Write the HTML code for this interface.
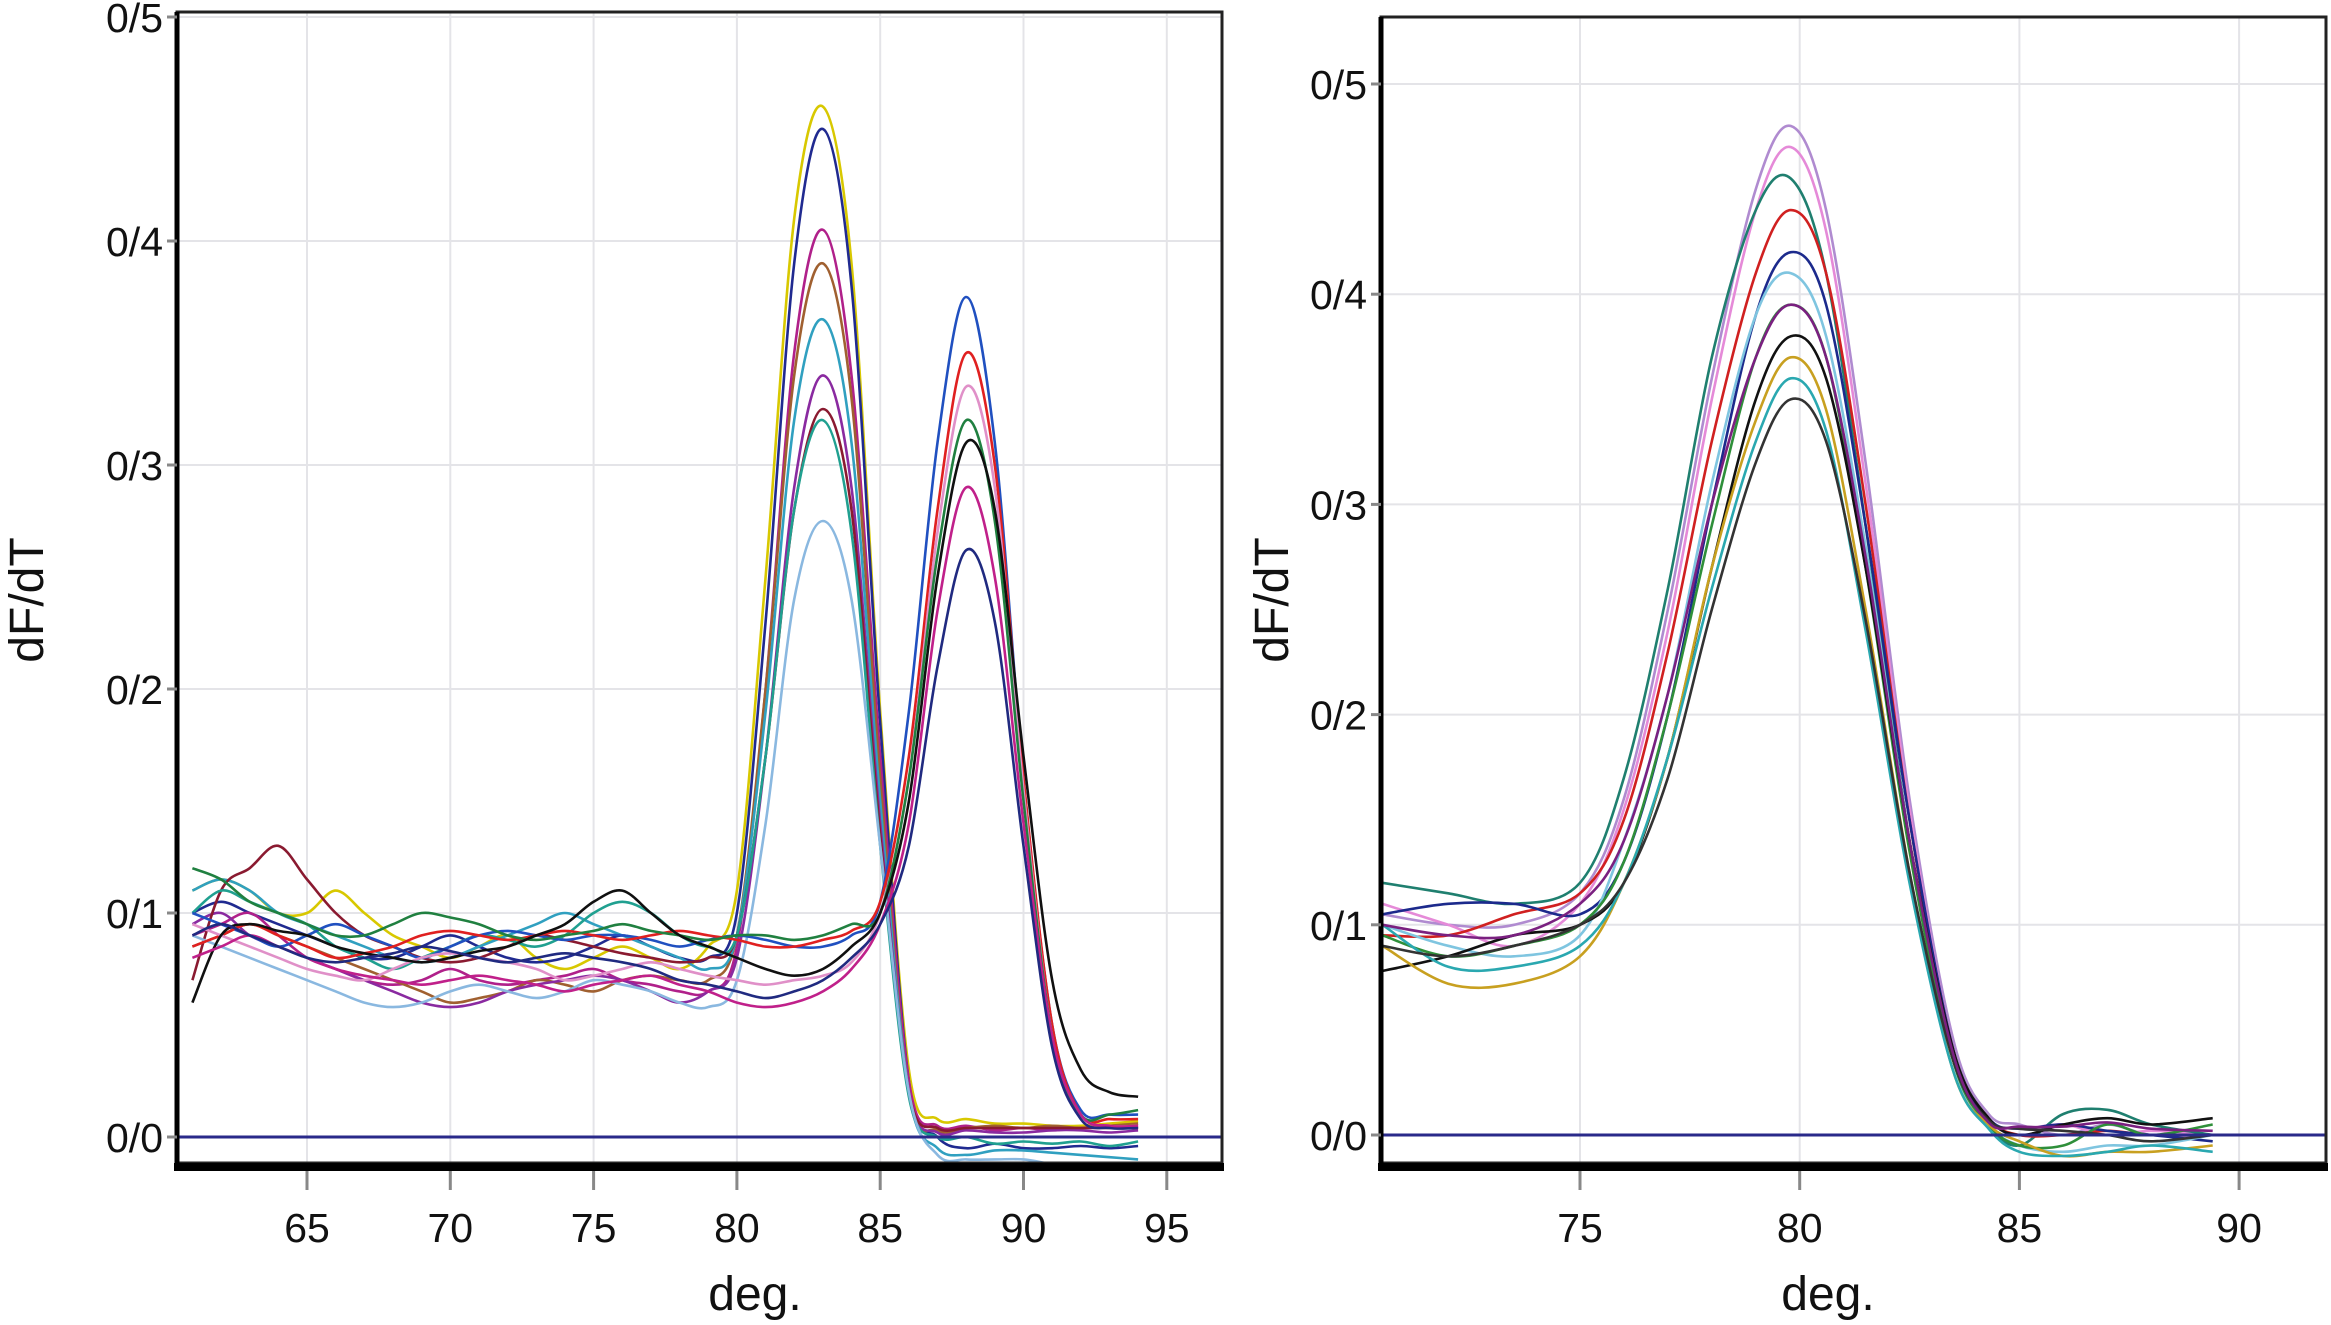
<!DOCTYPE html>
<html><head><meta charset="utf-8"><style>
html,body{margin:0;padding:0;background:#fff;}
svg{display:block;font-family:"Liberation Sans",Arial,sans-serif;}
</style></head><body>
<svg id="chart" width="2331" height="1325" viewBox="0 0 2331 1325" xmlns="http://www.w3.org/2000/svg">
<rect width="2331" height="1325" fill="#fff"/>
<g id="left"></g>
<g id="right"></g>
</svg>
<script>
// ---- Left chart data ----
const leftTemps = [61,62,63,64,65,66,67,68,69,70,71,72,73,74,75,76,77,78,79,80,81,82,83,84,85,86,87,88,89,90,91,92,93,94];
const leftXTicks = [65,70,75,80,85,90,95];
const leftYTicks = [0,0.1,0.2,0.3,0.4,0.5];
const leftYTickLabels = ["0/0","0/1","0/2","0/3","0/4","0/5"];
const leftColors = ["#d8c800","#202a90","#b0208a","#a06030","#30a0c0","#8a2aa0","#8a1a30","#20a090","#8ab8e0","#2050c0","#e02020","#e090c8","#208040","#101010","#c0208a","#202a80"];
const leftA1 = [0.11,0.115,0.11,0.10,0.10,0.11,0.10,0.09,0.085,0.08,0.085,0.09,0.08,0.075,0.08,0.085,0.08,0.075,0.085,0.11,0.25,0.41,0.46,0.39,0.19,0.03,0.008,0.008,0.006,0.006,0.005,0.005,0.006,0.007];
const leftA2 = [0.10,0.105,0.10,0.095,0.09,0.085,0.08,0.08,0.085,0.09,0.085,0.08,0.078,0.08,0.085,0.09,0.085,0.08,0.08,0.10,0.23,0.39,0.45,0.38,0.185,0.025,0.0,-0.005,-0.003,-0.005,-0.005,-0.004,-0.005,-0.004];
const leftA3 = [0.09,0.095,0.10,0.09,0.08,0.075,0.07,0.068,0.07,0.075,0.07,0.068,0.07,0.072,0.075,0.07,0.068,0.065,0.065,0.085,0.20,0.35,0.405,0.34,0.17,0.025,0.005,0.005,0.003,0.004,0.003,0.004,0.005,0.004];
const leftA4 = [0.085,0.09,0.095,0.09,0.085,0.08,0.075,0.07,0.065,0.06,0.062,0.065,0.07,0.068,0.065,0.07,0.072,0.07,0.07,0.09,0.20,0.34,0.39,0.33,0.16,0.02,0.003,0.004,0.005,0.004,0.005,0.004,0.005,0.006];
const leftA5 = [0.11,0.115,0.11,0.10,0.095,0.09,0.085,0.08,0.078,0.08,0.085,0.09,0.095,0.10,0.095,0.09,0.085,0.08,0.075,0.09,0.19,0.32,0.365,0.31,0.15,0.02,-0.005,-0.008,-0.006,-0.006,-0.007,-0.008,-0.009,-0.01];
const leftA6 = [0.095,0.10,0.09,0.085,0.08,0.075,0.07,0.065,0.06,0.058,0.06,0.065,0.068,0.07,0.072,0.07,0.065,0.06,0.065,0.08,0.17,0.29,0.34,0.29,0.14,0.02,0.002,0.003,0.002,0.002,0.003,0.003,0.002,0.003];
const leftA7 = [0.07,0.11,0.12,0.13,0.115,0.10,0.09,0.085,0.08,0.078,0.08,0.085,0.09,0.088,0.085,0.082,0.08,0.078,0.08,0.09,0.17,0.28,0.325,0.28,0.135,0.02,0.004,0.004,0.004,0.004,0.004,0.004,0.004,0.004];
const leftA8 = [0.10,0.11,0.105,0.10,0.095,0.085,0.08,0.075,0.08,0.085,0.09,0.088,0.085,0.09,0.10,0.105,0.10,0.09,0.085,0.09,0.17,0.28,0.32,0.27,0.13,0.018,0.0,0.0,-0.003,-0.002,-0.003,-0.002,-0.004,-0.002];
const leftA9 = [0.09,0.085,0.08,0.075,0.07,0.065,0.06,0.058,0.06,0.065,0.068,0.065,0.062,0.065,0.07,0.068,0.065,0.06,0.058,0.07,0.14,0.24,0.275,0.24,0.13,0.02,-0.008,-0.01,-0.01,-0.01,-0.012,-0.012,-0.012,-0.012];
const leftB1 = [0.10,0.095,0.09,0.085,0.09,0.095,0.09,0.085,0.08,0.085,0.09,0.092,0.09,0.088,0.09,0.09,0.088,0.085,0.088,0.09,0.088,0.085,0.085,0.09,0.105,0.19,0.31,0.375,0.31,0.16,0.05,0.012,0.01,0.01];
const leftB2 = [0.085,0.09,0.095,0.09,0.085,0.08,0.082,0.085,0.09,0.092,0.09,0.088,0.09,0.092,0.09,0.088,0.09,0.092,0.09,0.088,0.085,0.085,0.088,0.092,0.105,0.17,0.28,0.35,0.30,0.16,0.05,0.01,0.008,0.008];
const leftB3 = [0.095,0.09,0.085,0.08,0.075,0.072,0.07,0.075,0.08,0.082,0.08,0.078,0.075,0.07,0.072,0.075,0.078,0.075,0.072,0.07,0.068,0.07,0.072,0.078,0.10,0.16,0.27,0.335,0.29,0.155,0.045,0.01,0.005,0.005];
const leftB4 = [0.12,0.115,0.105,0.10,0.095,0.09,0.09,0.095,0.10,0.098,0.095,0.09,0.088,0.09,0.092,0.095,0.092,0.09,0.088,0.09,0.09,0.088,0.09,0.095,0.10,0.16,0.26,0.32,0.275,0.15,0.045,0.01,0.01,0.012];
const leftB5 = [0.06,0.09,0.095,0.092,0.09,0.085,0.082,0.08,0.078,0.08,0.083,0.085,0.09,0.095,0.105,0.11,0.10,0.09,0.085,0.08,0.075,0.072,0.075,0.085,0.10,0.15,0.25,0.31,0.28,0.17,0.07,0.03,0.02,0.018];
const leftB6 = [0.08,0.085,0.09,0.085,0.08,0.075,0.072,0.07,0.068,0.07,0.072,0.07,0.068,0.065,0.068,0.07,0.072,0.068,0.065,0.06,0.058,0.06,0.065,0.075,0.095,0.14,0.235,0.29,0.25,0.14,0.045,0.01,0.005,0.005];
const leftB7 = [0.09,0.095,0.09,0.085,0.08,0.078,0.08,0.082,0.085,0.083,0.08,0.078,0.08,0.082,0.08,0.078,0.075,0.07,0.068,0.065,0.062,0.065,0.07,0.08,0.095,0.13,0.21,0.262,0.23,0.13,0.04,0.008,0.004,0.004];
const leftSeries = [leftA1,leftA2,leftA3,leftA4,leftA5,leftA6,leftA7,leftA8,leftA9,leftB1,leftB2,leftB3,leftB4,leftB5,leftB6,leftB7];

// ---- Right chart data ----
const rightTemps = [70.5,72,73.5,75,76,77,78,79,79.8,80.6,81.5,82.5,83.5,84.3,85,86,87,88,89.4];
const rightXTicks = [75,80,85,90];
const rightYTicks = [0,0.1,0.2,0.3,0.4,0.5];
const rightYTickLabels = ["0/0","0/1","0/2","0/3","0/4","0/5"];
const rightColors = ["#b08bd0","#e58ad8","#1f7f6f","#d02020","#1c2a8c","#7fc5e0","#2f8f3a","#111111","#c8a020","#2aa8b0","#333333","#7a2080"];
const rightR1 = [0.105,0.10,0.10,0.115,0.16,0.25,0.36,0.45,0.48,0.44,0.32,0.16,0.045,0.01,0.005,0.0,0.005,0.0,0.0];
const rightR2 = [0.11,0.10,0.09,0.11,0.155,0.24,0.35,0.44,0.47,0.43,0.31,0.155,0.04,0.008,0.003,0.005,0.0,0.002,0.0];
const rightR3 = [0.12,0.115,0.11,0.12,0.17,0.26,0.37,0.44,0.455,0.41,0.29,0.14,0.035,0.005,-0.005,0.01,0.012,0.005,0.0];
const rightR4 = [0.095,0.095,0.105,0.115,0.15,0.23,0.33,0.41,0.44,0.41,0.30,0.15,0.04,0.008,0.0,0.0,0.002,0.0,0.0];
const rightR5 = [0.105,0.11,0.11,0.105,0.13,0.20,0.30,0.39,0.42,0.395,0.29,0.15,0.04,0.008,0.003,0.005,0.002,0.0,-0.003];
const rightR6 = [0.10,0.09,0.085,0.095,0.14,0.21,0.31,0.39,0.41,0.38,0.28,0.14,0.035,0.005,-0.005,-0.008,-0.005,-0.005,0.0];
const rightR7 = [0.095,0.085,0.09,0.10,0.13,0.20,0.29,0.37,0.395,0.37,0.27,0.135,0.035,0.005,-0.005,-0.005,0.005,0.0,0.005];
const rightR8 = [0.078,0.085,0.095,0.10,0.12,0.18,0.27,0.35,0.38,0.36,0.27,0.14,0.04,0.008,0.0,0.005,0.008,0.005,0.008];
const rightR9 = [0.09,0.072,0.072,0.085,0.12,0.18,0.27,0.34,0.37,0.345,0.25,0.125,0.03,0.005,-0.003,-0.01,-0.008,-0.008,-0.005];
const rightR10 = [0.10,0.08,0.08,0.09,0.12,0.18,0.26,0.33,0.36,0.335,0.24,0.12,0.03,0.003,-0.008,-0.01,-0.008,-0.005,-0.008];
const rightR11 = [0.09,0.085,0.09,0.10,0.12,0.17,0.25,0.32,0.35,0.33,0.245,0.125,0.035,0.007,0.003,0.002,0.0,-0.003,0.0];
const rightR12 = [0.10,0.095,0.095,0.11,0.14,0.21,0.30,0.37,0.395,0.37,0.275,0.14,0.038,0.006,0.004,0.004,0.006,0.003,0.002];
const rightSeries = [rightR1,rightR2,rightR3,rightR4,rightR5,rightR6,rightR7,rightR8,rightR9,rightR10,rightR11,rightR12];

const NS = "http://www.w3.org/2000/svg";
function mk(tag, attrs, parent){
  const e = document.createElementNS(NS, tag);
  for (const k in attrs) e.setAttribute(k, attrs[k]);
  parent.appendChild(e);
  return e;
}
function smoothPath(pts){
  let d = "M" + pts[0][0].toFixed(1) + "," + pts[0][1].toFixed(1);
  for (let i = 0; i < pts.length - 1; i++){
    const p0 = pts[Math.max(0,i-1)], p1 = pts[i], p2 = pts[i+1], p3 = pts[Math.min(pts.length-1,i+2)];
    const c1x = p1[0] + (p2[0]-p0[0])/6, c1y = p1[1] + (p2[1]-p0[1])/6;
    const c2x = p2[0] - (p3[0]-p1[0])/6, c2y = p2[1] - (p3[1]-p1[1])/6;
    d += " C" + c1x.toFixed(1) + "," + c1y.toFixed(1) + " " + c2x.toFixed(1) + "," + c2y.toFixed(1) + " " + p2[0].toFixed(1) + "," + p2[1].toFixed(1);
  }
  return d;
}
function drawPanel(g, cfg, temps, series, colors, xTicks, yTicks, yLabels, id){
  const x = v => cfg.x0 + (v - cfg.xv0) * cfg.xs;
  const y = v => cfg.y0 - v * cfg.ys;
  const grid = mk("g", {}, g);
  
  
  xTicks.forEach(t => {
    const l = mk("line", {x1:x(t), x2:x(t), y1:cfg.top, y2:cfg.bottom, stroke:"#e4e4e8", "stroke-width":2}, grid);
    
    
  });
  yTicks.forEach(t => {
    if (t === 0) return;
    const l = mk("line", {x1:cfg.left, x2:cfg.right, y1:y(t), y2:y(t), stroke:"#e4e4e8", "stroke-width":2}, grid);
    
    
  });
  const cp = mk("clipPath", {id:"clip"+id}, g);
  mk("rect", {x:cfg.left, y:cfg.top, width:cfg.right-cfg.left, height:cfg.bottom-cfg.top}, cp);
  const sg = mk("g", {"clip-path":"url(#clip"+id+")"}, g);
  
  
  series.forEach((s, i) => {
    const pts = s.map((v, j) => [x(temps[j]), y(v)]);
    const p = mk("path", {d:smoothPath(pts), fill:"none", stroke:colors[i % colors.length], "stroke-width":2.6, "stroke-linejoin":"round"}, sg);
    
    
  });
  const z = mk("line", {x1:cfg.left, x2:cfg.right, y1:y(0), y2:y(0), stroke:"#2a2a8a", "stroke-width":3}, g);
  
  
  const f = mk("rect", {x:cfg.left, y:cfg.top, width:cfg.right-cfg.left, height:cfg.bottom-cfg.top, fill:"none", stroke:"#222", "stroke-width":3}, g);
  
  
  const lb = mk("line", {x1:cfg.left-3, x2:cfg.right+2, y1:cfg.bottom+4, y2:cfg.bottom+4, stroke:"#000", "stroke-width":8}, g);
  
  
  const ll = mk("line", {x1:cfg.left, x2:cfg.left, y1:cfg.top, y2:cfg.bottom, stroke:"#000", "stroke-width":5}, g);
  
  
  xTicks.forEach(t => {
    const tk = mk("line", {x1:x(t), x2:x(t), y1:cfg.bottom+8, y2:cfg.bottom+27, stroke:"#888", "stroke-width":3}, g);
    
    
    const tx = mk("text", {x:x(t), y:1242, "font-size":41, "text-anchor":"middle", fill:"#111"}, g);
    tx.textContent = String(t);
    
    
  });
  yTicks.forEach((t, i) => {
    const tk = mk("line", {x1:cfg.left-10, x2:cfg.left, y1:y(t), y2:y(t), stroke:"#888", "stroke-width":3}, g);
    
    
    const tx = mk("text", {x:cfg.left-14, y:y(t)+15, "font-size":41, "text-anchor":"end", fill:"#111"}, g);
    tx.textContent = yLabels[i];
    
    
  });
  const yt = mk("text", {x:cfg.ytx, y:600, "font-size":48, "text-anchor":"middle", fill:"#111", transform:"rotate(-90 "+cfg.ytx+" 600)"}, g);
  yt.textContent = "dF/dT";
  
  
  const xt = mk("text", {x:cfg.xtx, y:1310, "font-size":48, "text-anchor":"middle", fill:"#111"}, g);
  xt.textContent = "deg.";
  
  
}
drawPanel(document.getElementById("left"),
  {x0:307, xv0:65, xs:143.3/5, y0:1137, ys:2240, left:177, right:1222, top:12, bottom:1163, ytx:43, xtx:755},
  leftTemps, leftSeries, leftColors, leftXTicks, leftYTicks, leftYTickLabels, "L");
drawPanel(document.getElementById("right"),
  {x0:1580, xv0:75, xs:219.7/5, y0:1135, ys:2102, left:1381, right:2326, top:17, bottom:1163, ytx:1288, xtx:1828},
  rightTemps, rightSeries, rightColors, rightXTicks, rightYTicks, rightYTickLabels, "R");
</script>
</body></html>
